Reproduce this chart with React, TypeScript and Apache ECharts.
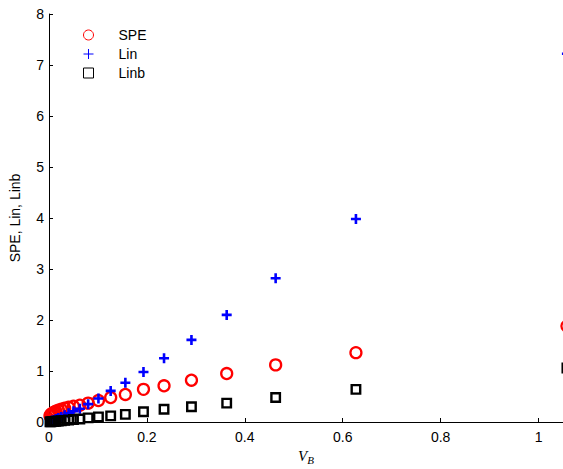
import React, { useEffect, useRef } from "react";
import * as echarts from "echarts";

const vb = [0.002, 0.004, 0.007, 0.010, 0.014, 0.019, 0.025, 0.032, 0.040, 0.050, 0.063, 0.080, 0.101, 0.126, 0.156, 0.193, 0.235, 0.291, 0.363, 0.463, 0.627, 1.058];
const spe = [0.12, 0.15, 0.17, 0.19, 0.21, 0.23, 0.25, 0.27, 0.29, 0.31, 0.33, 0.37, 0.42, 0.48, 0.54, 0.64, 0.71, 0.82, 0.95, 1.12, 1.36, 1.88];
const lin = [0.01, 0.02, 0.03, 0.04, 0.06, 0.08, 0.10, 0.13, 0.17, 0.21, 0.26, 0.35, 0.46, 0.61, 0.77, 0.98, 1.25, 1.61, 2.10, 2.82, 3.98, 7.22];
const linb = [0.002, 0.004, 0.007, 0.01, 0.014, 0.019, 0.025, 0.032, 0.04, 0.05, 0.06, 0.08, 0.10, 0.12, 0.15, 0.20, 0.25, 0.30, 0.37, 0.48, 0.64, 1.06];
const xTicks = [0, 0.2, 0.4, 0.6, 0.8, 1];
const yTicks = [0, 1, 2, 3, 4, 5, 6, 7, 8];

const PLUS = "path://M5,0L5,10M0,5L10,5";
const FONT = "Liberation Sans";

export default function App() {
  const ref = useRef<HTMLDivElement>(null);
  useEffect(() => {
    const chart = echarts.init(ref.current!, null, { renderer: "svg" });
    const pts = (ys: number[]) => vb.map((x, i) => [x, ys[i]]);
    chart.setOption({
      animation: false,
      backgroundColor: "#fff",
      textStyle: { fontFamily: FONT },
      grid: { left: 49, right: 0, top: 14, bottom: 47, outerBoundsMode: "none", containLabel: false },
      legend: {
        orient: "vertical",
        left: 83,
        top: 28,
        padding: 0,
        itemWidth: 10,
        itemHeight: 10,
        itemGap: 5,
        textStyle: { fontFamily: FONT, fontSize: 14, color: "#000", lineHeight: 14, padding: [0, 0, 0, 20] },
        data: [
          { name: "SPE", icon: "circle", itemStyle: { color: "transparent", borderColor: "#ff0000", borderWidth: 1, opacity: 1 } },
          { name: "Lin", icon: PLUS, itemStyle: { color: "transparent", borderColor: "#0000ff", borderWidth: 1, opacity: 1 } },
          { name: "Linb", icon: "rect", itemStyle: { color: "transparent", borderColor: "#000", borderWidth: 1, opacity: 1 } },
        ],
      },
      xAxis: {
        type: "value",
        min: 0,
        max: 1.05,
        name: "{v|V}{s|B}",
        nameLocation: "middle",
        nameGap: 24,
        nameTextStyle: {
          rich: {
            v: { fontFamily: "Liberation Serif", fontStyle: "italic", fontSize: 15, color: "#000" },
            s: { fontFamily: "Liberation Serif", fontStyle: "italic", fontSize: 11, color: "#000", padding: [8, 0, 0, 0] },
          },
        },
        splitLine: { show: false },
        axisLine: { onZero: false, lineStyle: { color: "#000", width: 1 } },
        axisTick: { inside: true, length: 4, customValues: xTicks, lineStyle: { color: "#000" } },
        axisLabel: {
          customValues: xTicks,
          color: "#000",
          fontSize: 14,
          fontFamily: FONT,
          margin: 8,
          formatter: (v: number) => String(Math.round(v * 10) / 10),
        },
      },
      yAxis: {
        type: "value",
        min: 0,
        max: 8,
        interval: 1,
        name: "SPE, Lin, Linb",
        nameLocation: "middle",
        nameGap: 27,
        nameTextStyle: { color: "#000", fontSize: 14, fontFamily: FONT },
        splitLine: { show: false },
        axisLine: { show: true, onZero: false, lineStyle: { color: "#000", width: 1 } },
        axisTick: { show: true, inside: true, length: 4, lineStyle: { color: "#000" } },
        axisLabel: { color: "#000", fontSize: 14, fontFamily: FONT, margin: 5, customValues: yTicks },
      },
      series: [
        {
          name: "SPE",
          type: "scatter",
          clip: false,
          data: pts(spe),
          symbol: "circle",
          symbolSize: 11,
          itemStyle: { color: "transparent", borderColor: "#ff0000", borderWidth: 2.3, opacity: 1 },
        },
        {
          name: "Lin",
          type: "scatter",
          clip: false,
          data: pts(lin),
          symbol: PLUS,
          symbolSize: 10,
          itemStyle: { color: "transparent", borderColor: "#0000ff", borderWidth: 2.6, opacity: 1 },
        },
        {
          name: "Linb",
          type: "scatter",
          clip: false,
          data: pts(linb),
          symbol: "rect",
          symbolSize: 8.5,
          itemStyle: { color: "transparent", borderColor: "#000", borderWidth: 2.4, opacity: 1 },
        },
      ],
    });
    return () => chart.dispose();
  }, []);
  return <div ref={ref} style={{ position: "absolute", left: 0, top: 0, width: 563, height: 469 }} />;
}
